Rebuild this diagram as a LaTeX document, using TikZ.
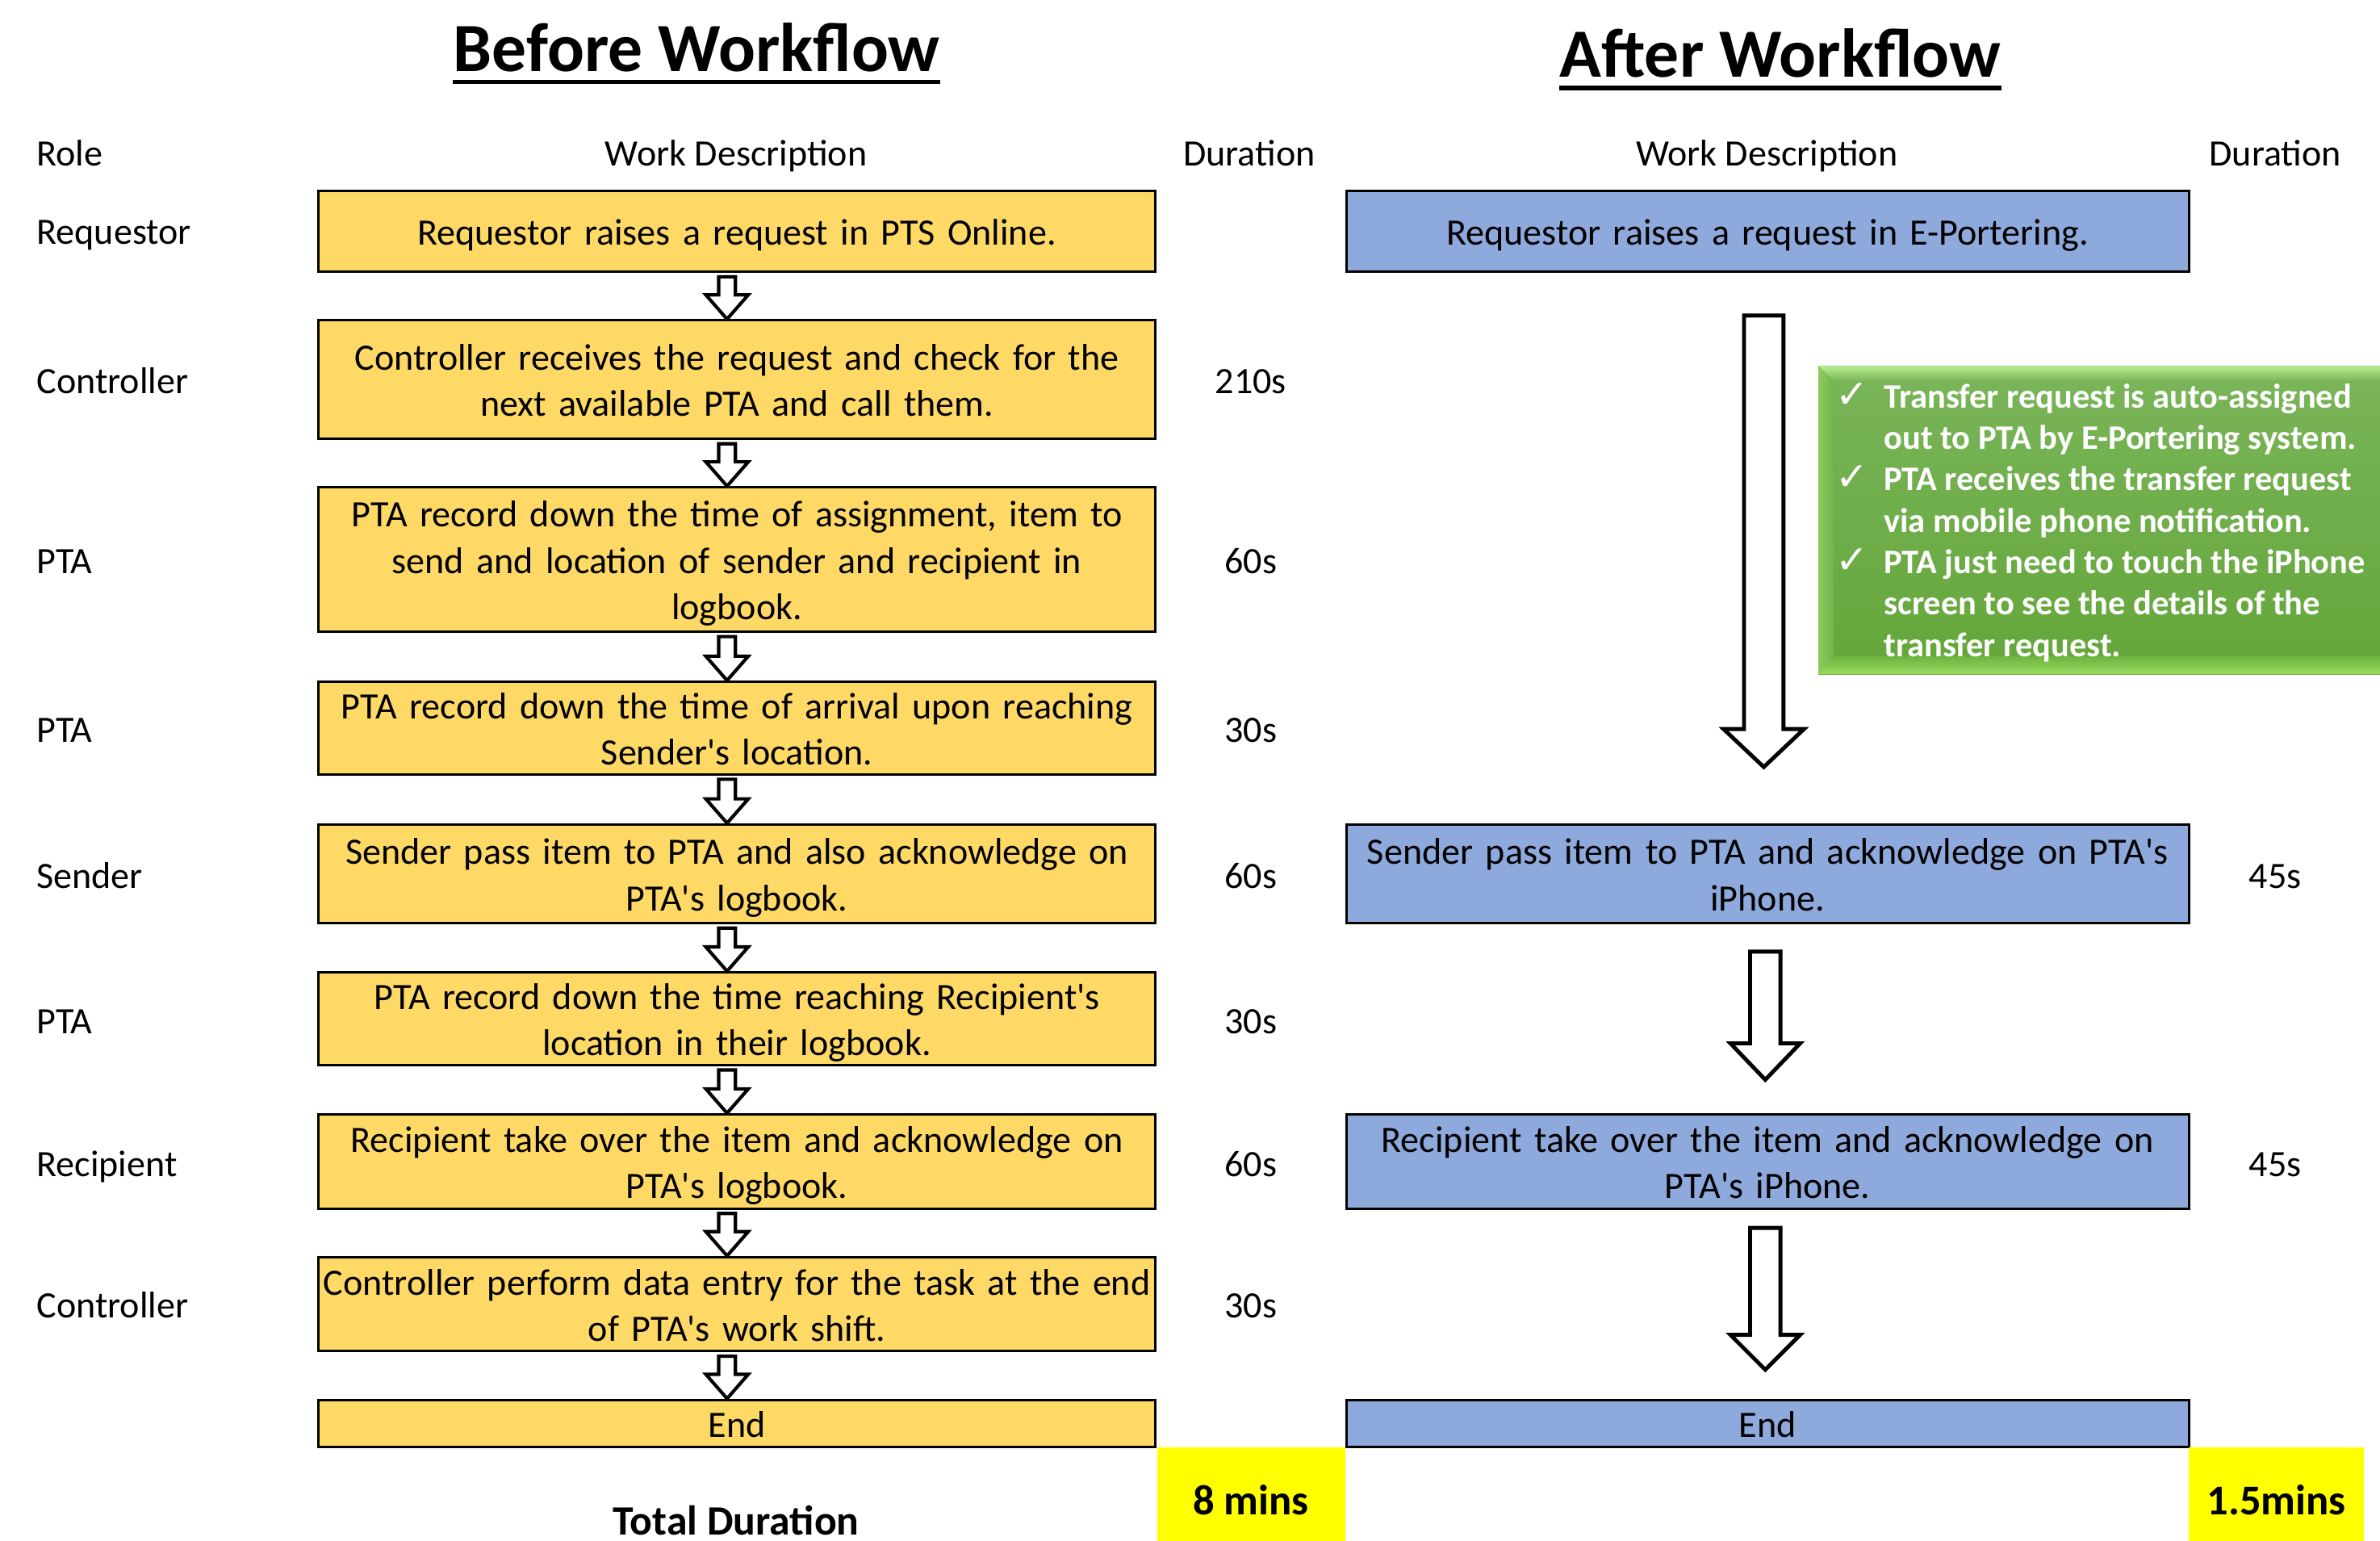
\documentclass[tikz,border=0pt]{standalone}
\usepackage{fontspec}
\setmainfont{Carlito}
\newfontfamily\djv{DejaVu Sans}
\usetikzlibrary{calc}
\definecolor{byel}{HTML}{FFD966}
\definecolor{bblue}{HTML}{8EA9DB}
\definecolor{gtop}{HTML}{7AB55A}
\definecolor{gbot}{HTML}{64A63A}
\definecolor{ybox}{HTML}{FFFF00}
\newcommand\barrow[6][blockarr]{%
  \draw[#1] let \p1=(#2), \p2=(#3) in
    (\x1-#4,\y1) -- (\x1-#4,\y2+#6) -- (\x1-#5,\y2+#6) -- (\x2,\y2)
    -- (\x1+#5,\y2+#6) -- (\x1+#4,\y2+#6) -- (\x1+#4,\y1) -- cycle;}
\newcommand\bs{\rule[-6.15pt]{0pt}{30.5pt}}
\newcommand\ap{\textquotesingle}
\newcommand\chk{\llap{\djv\mdseries\fontsize{26}{27}\selectfont ✓\hspace{10pt}}}
\begin{document}
\begin{tikzpicture}[x=1pt,y=-1pt,
  font=\fontsize{24.5}{30.5}\selectfont,
  lbox/.style={draw=black, line width=1.6pt, fill=byel, minimum width=551pt,
    text width=545pt, align=center, inner sep=0pt},
  rbox/.style={lbox, fill=bblue, minimum width=555pt, text width=549pt},
  role/.style={anchor=base west, inner sep=0pt},
  dur/.style={anchor=base, inner sep=0pt},
  hdr/.style={anchor=base, inner sep=0pt},
  ttl/.style={anchor=base, inner sep=0pt, font=\fontsize{45.5}{50}\selectfont\bfseries},
  blockarr/.style={draw=black, line width=2.2pt, fill=white, line join=miter},
  bigarr/.style={draw=black, line width=2.6pt, fill=white, line join=miter},
  tot/.style={fill=ybox, minimum width=124pt, minimum height=62pt, inner sep=0pt,
    text height=27pt, text depth=0pt, font=\fontsize{28}{32}\selectfont\bfseries}
]
\useasboundingbox (0,0) rectangle (1568,1015);

% titles
\node[ttl] (t1) at (459,47) {Before Workflow};
\node[ttl] (t2) at (1173,51) {After Workflow};
\draw[line width=3pt] ($(t1.base west)+(0,7)$) -- ($(t1.base east)+(0,7)$);
\draw[line width=3pt] ($(t2.base west)+(0,7)$) -- ($(t2.base east)+(0,7)$);

% headers
\node[role] (hrole) at (24,109) {Role};
\node[hdr] (hw1) at (485,109) {Work Description};
\node[hdr] (hd1) at (823,109) {Duration};
\node[hdr] (hw2) at (1164,109) {Work Description};
\node[hdr] (hd2) at (1499,109) {Duration};

% left boxes
\node[lbox, minimum height=53pt] (b1) at (485.5,152.5) {\bs Requestor raises a request in PTS Online.\bs};
\node[lbox, minimum height=78pt] (b2) at (485.5,250) {\bs Controller receives the request and check for the\\ next available PTA and call them.\bs};
\node[lbox, minimum height=95pt] (b3) at (485.5,368.5) {\bs PTA record down the time of assignment, item to\\ send and location of sender and recipient in\\ logbook.\bs};
\node[lbox, minimum height=61pt] (b4) at (485.5,479.5) {\bs PTA record down the time of arrival upon reaching\\ Sender\ap s location.\bs};
\node[lbox, minimum height=65pt] (b5) at (485.5,575.5) {\bs Sender pass item to PTA and also acknowledge on\\ PTA\ap s logbook.\bs};
\node[lbox, minimum height=60pt] (b6) at (485.5,671) {\bs PTA record down the time reaching Recipient\ap s\\ location in their logbook.\bs};
\node[lbox, minimum height=62pt] (b7) at (485.5,765) {\bs Recipient take over the item and acknowledge on\\ PTA\ap s logbook.\bs};
\node[lbox, minimum height=62pt] (b8) at (485.5,859) {\bs Controller perform data entry for the task at the end\\ of PTA\ap s work shift.\bs};
\node[lbox, minimum height=31pt] (b9) at (485.5,937.5) {\bs End\bs};

% roles
\node[role] (ro1) at (24,161) {Requestor};
\node[role] (ro2) at (24,259) {Controller};
\node[role] (ro3) at (24,378) {PTA};
\node[role] (ro4) at (24,489) {PTA};
\node[role] (ro5) at (24,585) {Sender};
\node[role] (ro6) at (24,681) {PTA};
\node[role] (ro7) at (24,775) {Recipient};
\node[role] (ro8) at (24,868) {Controller};

% durations (before)
\node[dur] (d2) at (824,259) {210s};
\node[dur] (d3) at (824,378) {60s};
\node[dur] (d4) at (824,489) {30s};
\node[dur] (d5) at (824,585) {60s};
\node[dur] (d6) at (824,681) {30s};
\node[dur] (d7) at (824,775) {60s};
\node[dur] (d8) at (824,868) {30s};

% small block arrows
\barrow{$(b1.south)+(-6.5,2.5)$}{$(b2.north)+(-6.5,0)$}{5.5pt}{14pt}{16pt}
\barrow{$(b2.south)+(-6.5,2.5)$}{$(b3.north)+(-6.5,0)$}{5.5pt}{14pt}{16pt}
\barrow{$(b3.south)+(-6.5,2.5)$}{$(b4.north)+(-6.5,0)$}{5.5pt}{14pt}{16pt}
\barrow{$(b4.south)+(-6.5,2.5)$}{$(b5.north)+(-6.5,0)$}{5.5pt}{14pt}{16pt}
\barrow{$(b5.south)+(-6.5,2.5)$}{$(b6.north)+(-6.5,0)$}{5.5pt}{14pt}{16pt}
\barrow{$(b6.south)+(-6.5,2.5)$}{$(b7.north)+(-6.5,0)$}{5.5pt}{14pt}{16pt}
\barrow{$(b7.south)+(-6.5,2.5)$}{$(b8.north)+(-6.5,0)$}{5.5pt}{14pt}{16pt}
\barrow{$(b8.south)+(-6.5,2.5)$}{$(b9.north)+(-6.5,0)$}{5.5pt}{14pt}{16pt}

% right boxes
\node[rbox, minimum height=53pt] (r1) at (1164.5,152.5) {\bs Requestor raises a request in E-Portering.\bs};
\node[rbox, minimum height=65pt] (r2) at (1164.5,575.5) {\bs Sender pass item to PTA and acknowledge on PTA\ap s\\ iPhone.\bs};
\node[rbox, minimum height=62pt] (r3) at (1164.5,765) {\bs Recipient take over the item and acknowledge on\\ PTA\ap s iPhone.\bs};
\node[rbox, minimum height=31pt] (r4) at (1164.5,937.5) {\bs End\bs};

\node[dur] (e2) at (1499,585) {45s};
\node[dur] (e3) at (1499,775) {45s};

% big block arrows
\coordinate (a1s) at ($(r1.south)+(-2.5,28)$);
\coordinate (a1e) at ($(r2.north)+(-2.5,-37)$);
\coordinate (a2s) at ($(r2.south)+(-1.5,18)$);
\coordinate (a2e) at ($(r3.north)+(-1.5,-22)$);
\coordinate (a3s) at ($(r3.south)+(-1.5,12)$);
\coordinate (a3e) at ($(r4.north)+(-1.5,-19)$);
\barrow[bigarr]{a1s}{a1e}{13pt}{26.5pt}{25pt}
\barrow[bigarr]{a2s}{a2e}{10pt}{23pt}{24pt}
\barrow[bigarr]{a3s}{a3e}{10pt}{23pt}{23pt}

% green callout (bevelled)
\shade[top color=gtop, bottom color=gbot] (1198,241) rectangle (1568,444);
\shade[top color={rgb,255:red,184;green,238;blue,144}, bottom color=gtop]
  (1198,241) -- (1568,241) -- (1568,251) -- (1208,251) -- cycle;
\shade[left color={rgb,255:red,140;green,204;blue,94}, right color={rgb,255:red,116;green,178;blue,76}]
  (1198,241) -- (1208,251) -- (1208,432) -- (1198,444) -- cycle;
\shade[top color={rgb,255:red,108;green,178;blue,62}, bottom color={rgb,255:red,152;green,221;blue,98}]
  (1198,444) -- (1208,432) -- (1568,432) -- (1568,444) -- cycle;
\node[anchor=north west, inner sep=0pt, align=left, text=white,
  font=\fontsize{22.6}{27.3}\selectfont\bfseries] (gtext) at (1241,252)
  {\chk Transfer request is auto-assigned\\
   out to PTA by E-Portering system.\\
   \chk PTA receives the transfer request\\
   via mobile phone notification.\\
   \chk PTA just need to touch the iPhone\\
   screen to see the details of the\\
   transfer request.};

% totals
\node[tot, anchor=north west] (tot1) at (762,953) {8 mins};
\node[tot, anchor=north west, minimum width=115pt] (tot2) at (1442,953) {1.5mins};
\node[hdr, font=\fontsize{27.5}{32}\selectfont\bfseries] (totl) at (485,1011) {Total Duration};
\end{tikzpicture}
\end{document}
